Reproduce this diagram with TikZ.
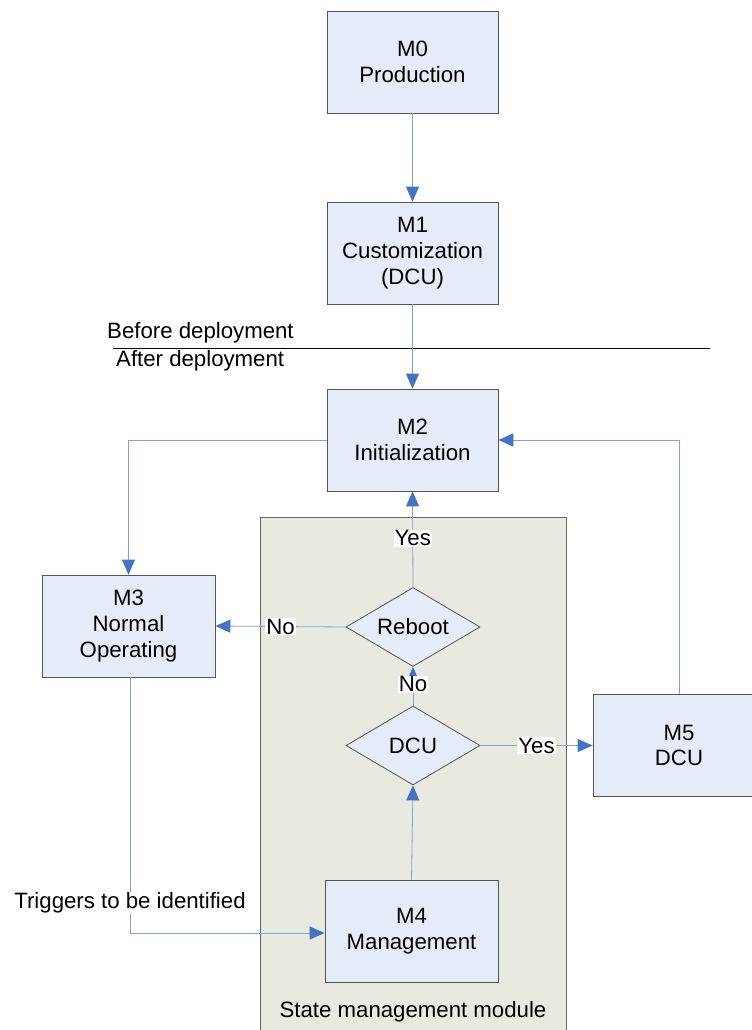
\documentclass[tikz,border=0pt]{standalone}
\usepackage{fontspec}
\setmainfont{Liberation Sans}
\usetikzlibrary{arrows.meta,shapes.geometric}
\definecolor{boxfill}{HTML}{E6ECF7}
\definecolor{boxline}{HTML}{555555}
\definecolor{conn}{HTML}{7FA3D8}
\definecolor{tip}{HTML}{4472C4}
\definecolor{modfill}{HTML}{E9EADF}
\begin{document}
\begin{tikzpicture}[x=1bp,y=-1bp,
  every node/.style={font=\fontsize{22.3}{26}\selectfont},
  mbox/.style={draw=boxline,fill=boxfill,line width=0.8bp,minimum width=171bp,minimum height=102bp,align=center,inner sep=0pt},
  dia/.style={diamond,draw=boxline,fill=boxfill,line width=0.8bp,minimum width=134bp,minimum height=79bp,inner sep=0pt,aspect=1.7},
  conn/.style={draw=conn,line width=0.8bp,-{Triangle[length=15bp,width=13bp,color=tip]}},
  plain/.style={draw=conn,line width=0.8bp},
  lab/.style={fill=white,inner sep=1bp}]
\useasboundingbox (0,0) rectangle (752,1030);
% module container
\fill[modfill] (260,517) rectangle (566,1035);
\draw[draw=gray!80!black,line width=1bp] (260,1035) -- (260,517) -- (566,517) -- (566,1035);
\node (modlab) at (413,1012) {State management module};
% boxes
\node[mbox] (m0) at (412.5,62) {M0\\Production};
\node[mbox] (m1) at (412.5,253) {M1\\Customization\\(DCU)};
\node[mbox] (m2) at (412.5,440) {M2\\Initialization};
\node[mbox,minimum width=173bp] (m3) at (128.5,626) {M3\\Normal\\Operating};
\node[mbox,minimum width=172bp] (m5) at (679,745.5) {M5\\DCU};
\node[mbox,minimum width=173bp] (m4) at (411.5,931.5) {M4\\Management};
\node[dia] (reb) at (413,627) {Reboot};
\node[dia] (dcu) at (413,745.5) {DCU};
% deployment line
\coordinate (dl) at (113,348);
\coordinate (dr) at (710,348);
\draw[line width=0.8bp] (dl) -- (dr);
\node[anchor=west,inner sep=0pt] (bd) at (107,333) {Before deployment};
\node[anchor=west,inner sep=0pt] (ad) at (116,361) {After deployment};
% connectors
\draw[conn] (m0) -- (m1);
\draw[conn] (m1) -- (m2);
\draw[conn] (m2.west) -| (m3.north);
\draw[conn] (m5.north -| 679,0) |- (m2.east);
\draw[conn] (reb.north) -- node[lab,pos=0.51] {Yes} (m2.south);
\draw[conn] (reb.west) -- node[lab,pos=0.5] {No} (m3.east);
\draw[conn] (dcu.north) -- node[lab,pos=0.55] {No} (reb.south);
\draw[conn] (dcu.east) -- node[lab,pos=0.5] {Yes} (m5.west);
\draw[conn] (m4.north) -- (dcu.south);
\coordinate (tc) at (130,933);
\draw[conn] (m3.south -| tc) -- (tc) -- (m4.west |- tc);
\node[lab] (trig) at (130,903) {Triggers to be identified};
\end{tikzpicture}
\end{document}
